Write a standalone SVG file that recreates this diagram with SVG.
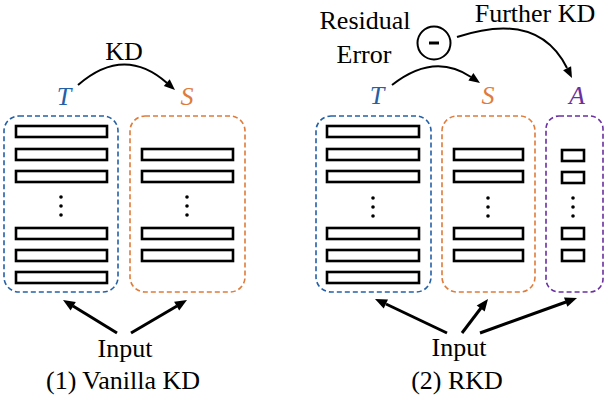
<svg xmlns="http://www.w3.org/2000/svg" width="611" height="400" viewBox="0 0 611 400">
<style>
.box{fill:none;stroke-width:1.6;stroke-dasharray:5,3}
.bar{fill:#fff;stroke:#000;stroke-width:2.6}
.dot{fill:#000}
.arc{fill:none;stroke:#000;stroke-width:2}
.ln{fill:none;stroke:#000;stroke-width:3}
.head{fill:#000}
</style>
<rect width="611" height="400" fill="#fff"/>

<g id="left-T">
<rect class="box" x="4" y="116" width="114" height="176" rx="15" stroke="#2460a7"/>
<rect class="bar" x="16" y="126" width="91" height="11"/>
<rect class="bar" x="16" y="149" width="91" height="11"/>
<rect class="bar" x="16" y="171" width="91" height="11"/>
<circle class="dot" cx="61" cy="197" r="1.8"/><circle class="dot" cx="61" cy="206" r="1.8"/><circle class="dot" cx="61" cy="215" r="1.8"/>
<rect class="bar" x="16" y="228" width="91" height="11"/>
<rect class="bar" x="16" y="250" width="91" height="11"/>
<rect class="bar" x="16" y="272" width="91" height="11"/>
<text x="64" y="105" fill="#2460a7" font-family="'Liberation Serif', 'Times New Roman', serif" font-size="26" font-style="italic" text-anchor="middle" style="font-family:'Liberation Serif','Times New Roman',serif">T</text>
</g>
<g id="left-S">
<rect class="box" x="130" y="116" width="115" height="176" rx="15" stroke="#e07b39"/>
<rect class="bar" x="142" y="149" width="91" height="11"/>
<rect class="bar" x="142" y="171" width="91" height="11"/>
<circle class="dot" cx="187" cy="197" r="1.8"/><circle class="dot" cx="187" cy="206" r="1.8"/><circle class="dot" cx="187" cy="215" r="1.8"/>
<rect class="bar" x="142" y="228" width="91" height="11"/>
<rect class="bar" x="142" y="250" width="91" height="11"/>
<text x="187" y="105" fill="#e07b39" font-family="'Liberation Serif', 'Times New Roman', serif" font-size="26" font-style="italic" text-anchor="middle" style="font-family:'Liberation Serif','Times New Roman',serif">S</text>
</g>
<g id="left-text">
<text x="124" y="60" font-family="'Liberation Serif', 'Times New Roman', serif" font-size="26" text-anchor="middle" style="font-family:'Liberation Serif','Times New Roman',serif">KD</text>
<text x="125" y="357" font-family="'Liberation Serif', 'Times New Roman', serif" font-size="26" text-anchor="middle" style="font-family:'Liberation Serif','Times New Roman',serif">Input</text>
<text x="123" y="389" font-family="'Liberation Serif', 'Times New Roman', serif" font-size="26" text-anchor="middle" style="font-family:'Liberation Serif','Times New Roman',serif">(1) Vanilla KD</text>
</g>

<g id="right-T">
<rect class="box" x="316" y="116" width="115" height="176" rx="15" stroke="#2460a7"/>
<rect class="bar" x="327" y="126" width="92" height="11"/>
<rect class="bar" x="327" y="149" width="92" height="11"/>
<rect class="bar" x="327" y="171" width="92" height="11"/>
<circle class="dot" cx="373" cy="198" r="1.8"/><circle class="dot" cx="373" cy="207" r="1.8"/><circle class="dot" cx="373" cy="216" r="1.8"/>
<rect class="bar" x="327" y="228" width="92" height="11"/>
<rect class="bar" x="327" y="250" width="92" height="11"/>
<rect class="bar" x="327" y="272" width="92" height="11"/>
<text x="377" y="104" fill="#2460a7" font-family="'Liberation Serif', 'Times New Roman', serif" font-size="26" font-style="italic" text-anchor="middle" style="font-family:'Liberation Serif','Times New Roman',serif">T</text>
</g>
<g id="right-S">
<rect class="box" x="442" y="116" width="93" height="176" rx="15" stroke="#e07b39"/>
<rect class="bar" x="454" y="149" width="69" height="11"/>
<rect class="bar" x="454" y="171" width="69" height="11"/>
<circle class="dot" cx="488" cy="198" r="1.8"/><circle class="dot" cx="488" cy="207" r="1.8"/><circle class="dot" cx="488" cy="216" r="1.8"/>
<rect class="bar" x="454" y="228" width="69" height="11"/>
<rect class="bar" x="454" y="250" width="69" height="11"/>
<text x="488" y="104" fill="#e07b39" font-family="'Liberation Serif', 'Times New Roman', serif" font-size="26" font-style="italic" text-anchor="middle" style="font-family:'Liberation Serif','Times New Roman',serif">S</text>
</g>
<g id="right-A">
<rect class="box" x="546" y="116" width="57" height="176" rx="13" stroke="#6a2fa0"/>
<rect class="bar" x="562" y="150" width="22" height="11"/>
<rect class="bar" x="562" y="172" width="22" height="11"/>
<circle class="dot" cx="573" cy="198" r="1.8"/><circle class="dot" cx="573" cy="207" r="1.8"/><circle class="dot" cx="573" cy="216" r="1.8"/>
<rect class="bar" x="562" y="228" width="22" height="11"/>
<rect class="bar" x="562" y="250" width="22" height="11"/>
<text x="577" y="104" fill="#6a2fa0" font-family="'Liberation Serif', 'Times New Roman', serif" font-size="26" font-style="italic" text-anchor="middle" style="font-family:'Liberation Serif','Times New Roman',serif">A</text>
</g>
<g id="minus">
<circle cx="434" cy="43" r="16.5" fill="#fff" stroke="#000" stroke-width="2"/>
<line x1="429" y1="43" x2="439" y2="43" stroke="#000" stroke-width="3"/>
</g>
<g id="right-text">
<text x="365" y="29" font-family="'Liberation Serif', 'Times New Roman', serif" font-size="26" text-anchor="middle" style="font-family:'Liberation Serif','Times New Roman',serif">Residual</text>
<text x="364" y="63" font-family="'Liberation Serif', 'Times New Roman', serif" font-size="26" text-anchor="middle" style="font-family:'Liberation Serif','Times New Roman',serif">Error</text>
<text x="535" y="22" font-family="'Liberation Serif', 'Times New Roman', serif" font-size="26" text-anchor="middle" style="font-family:'Liberation Serif','Times New Roman',serif">Further KD</text>
<text x="459" y="356" font-family="'Liberation Serif', 'Times New Roman', serif" font-size="26" text-anchor="middle" style="font-family:'Liberation Serif','Times New Roman',serif">Input</text>
<text x="457" y="389" font-family="'Liberation Serif', 'Times New Roman', serif" font-size="26" text-anchor="middle" style="font-family:'Liberation Serif','Times New Roman',serif">(2) RKD</text>
</g>

<g id="connectors">
<path class="arc" d="M78,85 Q124,45 167,83"/>
<path class="head" d="M175,90 L169.7,79.3 L163.8,86.1 Z"/>
<path class="arc" d="M392,85 Q434,52 471,77"/>
<path class="head" d="M480,83 L473.4,73.1 L468.4,80.6 Z"/>
<path class="arc" d="M457,37 Q538,10 567,68"/>
<path class="head" d="M572,78 L571.1,66.2 L563.1,70.2 Z"/>
<line class="ln" x1="117" y1="333" x2="73" y2="306"/>
<path class="head" d="M63,300 L75.8,302.0 L70.6,310.5 Z"/>
<line class="ln" x1="131" y1="333" x2="177" y2="306"/>
<path class="head" d="M187,300 L179.2,310.4 L174.1,301.8 Z"/>
<line class="ln" x1="447" y1="333" x2="386" y2="304"/>
<path class="head" d="M375,299 L388.0,299.6 L383.7,308.6 Z"/>
<line class="ln" x1="462" y1="333" x2="481" y2="308"/>
<path class="head" d="M488,299 L484.7,311.6 L476.7,305.5 Z"/>
<line class="ln" x1="480" y1="333" x2="566" y2="302"/>
<path class="head" d="M577,298 L567.4,306.8 L564.0,297.4 Z"/>
</g>
</svg>
